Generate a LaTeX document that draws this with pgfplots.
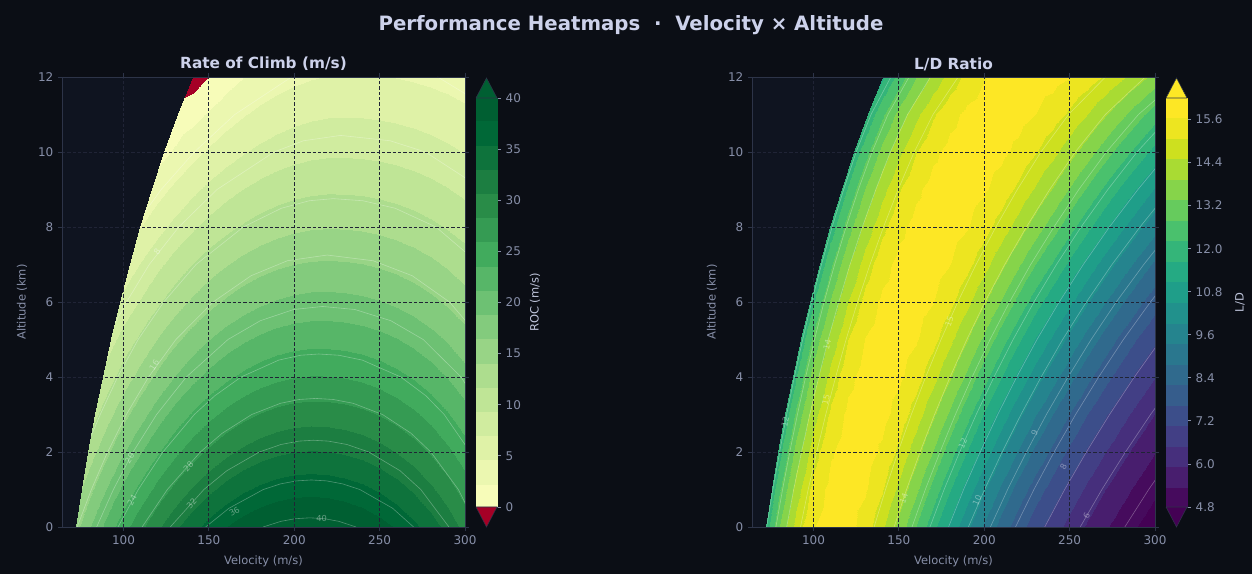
\documentclass[border=0pt]{standalone}
\usepackage{fontspec}
\setmainfont{DejaVu Sans}
\usepackage{pgfplots}
\usepackage{pgfplotstable}
\pgfplotsset{compat=1.18}

\definecolor{figbg}{RGB}{11,14,21}
\definecolor{axbg}{RGB}{15,20,32}
\definecolor{tickc}{RGB}{135,143,168}
\definecolor{titlec}{RGB}{205,210,235}
\definecolor{cblab}{RGB}{190,196,218}
\definecolor{spinec}{RGB}{45,52,72}
\definecolor{gridc}{RGB}{32,36,54}

\pgfplotsset{
  colormap={rocmap}{rgb255=(165,0,38) rgb255=(247,252,185) rgb255=(235,247,176) rgb255=(223,242,167) rgb255=(208,236,159) rgb255=(191,229,150) rgb255=(173,221,142) rgb255=(152,212,134) rgb255=(131,203,125) rgb255=(109,193,115) rgb255=(87,182,104) rgb255=(65,171,93) rgb255=(53,155,83) rgb255=(41,140,72) rgb255=(28,126,65) rgb255=(14,115,60) rgb255=(0,104,55) rgb255=(0,95,50) rgb255=(0,95,50)},
  colormap={ldmap}{rgb255=(68,1,84) rgb255=(70,11,93) rgb255=(72,30,110) rgb255=(70,47,124) rgb255=(66,63,133) rgb255=(60,78,138) rgb255=(54,93,140) rgb255=(48,106,141) rgb255=(42,119,142) rgb255=(37,132,142) rgb255=(33,145,140) rgb255=(31,158,137) rgb255=(37,170,131) rgb255=(52,181,121) rgb255=(74,193,109) rgb255=(102,203,93) rgb255=(134,212,74) rgb255=(169,219,51) rgb255=(205,224,31) rgb255=(237,229,32) rgb255=(253,231,37) rgb255=(253,231,37)},
}

\pgfplotsset{
  heat/.style={
    scale only axis, width=302.25pt, height=337.5pt,
    xmin=64, xmax=300, ymin=0, ymax=12,
    xtick={100,150,200,250,300}, ytick={0,2,4,6,8,10,12},
    axis background/.style={fill=axbg},
    axis line style={spinec, line width=0.6pt},
    tick style={spinec, line width=0.6pt},
    tick align=outside, major tick length=3pt,
    ticklabel style={font=\fontsize{9}{10}\selectfont, text=tickc},
    xlabel style={font=\fontsize{8.6}{10}\selectfont, text=tickc, at={(axis description cs:0.5,0)}, anchor=center, yshift=-26pt},
    ylabel style={font=\fontsize{8.6}{10}\selectfont, text=tickc, at={(axis description cs:0,0.5)}, anchor=center, yshift=30pt},
    grid=major, grid style={gridc, dash pattern=on 2.5pt off 1.5pt, line width=0.6pt},
    axis on top,
    xlabel={Velocity (m/s)}, ylabel={Altitude (km)},
    title style={font=\bfseries\fontsize{11.5}{13}\selectfont, text=titlec, anchor=center, yshift=3.75pt},
    /pgf/number format/assume math mode=true,
  },
  cbar/.style={
    scale only axis, width=15.75pt, height=306.75pt,
    xmin=0, xmax=1, xtick=\empty, clip=false,
    yticklabel pos=right, ytick pos=right,
    axis line style={spinec, line width=0.5pt},
    tick style={tickc, line width=0.6pt},
    tick align=outside, major tick length=3pt,
    ticklabel style={font=\fontsize{9}{10}\selectfont, text=tickc},
    /pgf/number format/assume math mode=true,
  },
  cline/.style={white, opacity=0.3, line width=0.45pt, forget plot},
}
\tikzset{clabel/.style={font=\fontsize{6.2}{7}\selectfont, text=white, text opacity=0.38, inner sep=0.5pt}}

\pgfplotstableread{
x y z
72 0 15.66
80 0 18.53
90 0 21.88
100 0 24.96
110 0 27.77
120 0 30.31
130 0 32.57
140 0 34.57
150 0 36.30
160 0 37.76
170 0 38.95
180 0 39.86
190 0 40.51
200 0 40.89
210 0 41.00
220 0 40.84
230 0 40.40
240 0 39.70
250 0 38.73
260 0 37.49
270 0 35.98
280 0 34.19
290 0 32.14
300 0 29.82
75.6 1 14.12
80 1 15.59
90 1 18.76
100 1 21.68
110 1 24.34
120 1 26.75
130 1 28.90
140 1 30.80
150 1 32.45
160 1 33.84
170 1 34.98
180 1 35.86
190 1 36.49
200 1 36.87
210 1 36.99
220 1 36.86
230 1 36.50
240 1 35.89
250 1 35.04
260 1 33.95
270 1 32.62
280 1 31.04
290 1 29.23
300 1 27.17
79.4 2 12.61
80 2 12.80
90 2 15.79
100 2 18.55
110 2 21.07
120 2 23.35
130 2 25.39
140 2 27.19
150 2 28.76
160 2 30.09
170 2 31.18
180 2 32.03
190 2 32.64
200 2 33.02
210 2 33.16
220 2 33.07
230 2 32.76
240 2 32.24
250 2 31.50
260 2 30.55
270 2 29.39
280 2 28.00
290 2 26.40
300 2 24.59
83.6 3 11.21
83.6 3 11.21
90 3 12.99
100 3 15.59
110 3 17.96
120 3 20.11
130 3 22.05
140 3 23.76
150 3 25.24
160 3 26.51
170 3 27.55
180 3 28.37
190 3 28.97
200 3 29.35
210 3 29.51
220 3 29.45
230 3 29.20
240 3 28.76
250 3 28.13
260 3 27.30
270 3 26.29
280 3 25.08
290 3 23.68
300 3 22.09
88 4 9.84
88 4 9.84
90 4 10.36
100 4 12.79
110 4 15.03
120 4 17.05
130 4 18.88
140 4 20.49
150 4 21.90
160 4 23.10
170 4 24.10
180 4 24.89
190 4 25.48
200 4 25.85
210 4 26.03
220 4 26.00
230 4 25.81
240 4 25.44
250 4 24.90
260 4 24.19
270 4 23.32
280 4 22.27
290 4 21.05
300 4 19.66
92.9 5 8.59
92.9 5 8.59
92.9 5 8.59
100 5 10.19
110 5 12.28
120 5 14.18
130 5 15.89
140 5 17.41
150 5 18.74
160 5 19.88
170 5 20.83
180 5 21.59
190 5 22.16
200 5 22.54
210 5 22.73
220 5 22.73
230 5 22.58
240 5 22.28
250 5 21.83
260 5 21.23
270 5 20.48
280 5 19.57
290 5 18.52
300 5 17.32
98.1 6 7.24
98.1 6 7.24
98.1 6 7.24
100 6 7.64
110 6 9.60
120 6 11.39
130 6 13.01
140 6 14.45
150 6 15.71
160 6 16.80
170 6 17.71
180 6 18.45
190 6 19.01
200 6 19.39
210 6 19.60
220 6 19.63
230 6 19.52
240 6 19.28
250 6 18.91
260 6 18.40
270 6 17.76
280 6 16.99
290 6 16.09
300 6 15.05
103.7 7 5.98
103.7 7 5.98
103.7 7 5.98
103.7 7 5.98
110 7 7.12
120 7 8.80
130 7 10.32
140 7 11.68
150 7 12.88
160 7 13.91
170 7 14.78
180 7 15.49
190 7 16.04
200 7 16.42
210 7 16.65
220 7 16.71
230 7 16.64
240 7 16.45
250 7 16.14
260 7 15.72
270 7 15.18
280 7 14.53
290 7 13.75
300 7 12.87
109.9 8 4.58
109.9 8 4.58
109.9 8 4.58
109.9 8 4.58
110 8 4.60
120 8 6.21
130 8 7.67
140 8 8.97
150 8 10.13
160 8 11.13
170 8 11.98
180 8 12.68
190 8 13.23
200 8 13.62
210 8 13.87
220 8 13.96
230 8 13.92
240 8 13.78
250 8 13.53
260 8 13.18
270 8 12.74
280 8 12.18
290 8 11.53
300 8 10.78
116.6 9 3.18
116.6 9 3.18
116.6 9 3.18
116.6 9 3.18
116.6 9 3.18
120 9 3.69
130 9 5.11
140 9 6.38
150 9 7.51
160 9 8.50
170 9 9.34
180 9 10.03
190 9 10.59
200 9 11.00
210 9 11.26
220 9 11.38
230 9 11.37
240 9 11.27
250 9 11.07
260 9 10.79
270 9 10.42
280 9 9.96
290 9 9.41
300 9 8.77
123.9 10 1.70
123.9 10 1.70
123.9 10 1.70
123.9 10 1.70
123.9 10 1.70
123.9 10 1.70
130 10 2.55
140 10 3.82
150 10 4.96
160 10 5.95
170 10 6.80
180 10 7.52
190 10 8.09
200 10 8.53
210 10 8.82
220 10 8.97
230 10 8.99
240 10 8.92
250 10 8.78
260 10 8.55
270 10 8.25
280 10 7.87
290 10 7.41
300 10 6.88
131.9 11 0.80
131.9 11 0.80
131.9 11 0.80
131.9 11 0.80
131.9 11 0.80
131.9 11 0.80
131.9 11 0.80
140 11 1.35
150 11 2.51
160 11 3.52
170 11 4.40
180 11 5.15
190 11 5.75
200 11 6.22
210 11 6.55
220 11 6.74
230 11 6.79
240 11 6.75
250 11 6.64
260 11 6.46
270 11 6.22
280 11 5.91
290 11 5.54
300 11 5.09
141 12 -1.30
141 12 -1.30
141 12 -1.30
141 12 -1.30
141 12 -1.30
141 12 -1.30
141 12 -1.30
141 12 -1.30
150 12 -0.05
160 12 1.25
170 12 2.16
180 12 2.94
190 12 3.57
200 12 4.07
210 12 4.44
220 12 4.67
230 12 4.76
240 12 4.74
250 12 4.67
260 12 4.54
270 12 4.35
280 12 4.11
290 12 3.82
300 12 3.46
}\roctable

\pgfplotstableread{
x y z
72 0 11.87
80 0 13.34
90 0 14.75
100 0 15.62
110 0 15.98
120 0 15.88
130 0 15.39
140 0 14.64
150 0 13.74
160 0 12.78
170 0 11.83
180 0 10.92
190 0 10.06
200 0 9.27
210 0 8.55
220 0 7.89
230 0 7.30
240 0 6.76
250 0 6.28
260 0 5.84
270 0 5.44
280 0 5.08
290 0 4.75
300 0 4.45
75.6 1 11.88
80 1 12.67
90 1 14.21
100 1 15.27
110 1 15.85
120 1 15.98
130 1 15.73
140 1 15.15
150 1 14.38
160 1 13.51
170 1 12.59
180 1 11.69
190 1 10.83
200 1 10.02
210 1 9.27
220 1 8.57
230 1 7.95
240 1 7.38
250 1 6.86
260 1 6.38
270 1 5.96
280 1 5.57
290 1 5.21
300 1 4.88
79.4 2 11.87
80 2 11.97
90 2 13.59
100 2 14.81
110 2 15.60
120 2 15.96
130 2 15.93
140 2 15.56
150 2 14.96
160 2 14.19
170 2 13.35
180 2 12.48
190 2 11.63
200 2 10.81
210 2 10.04
220 2 9.32
230 2 8.66
240 2 8.05
250 2 7.50
260 2 6.99
270 2 6.53
280 2 6.11
290 2 5.72
300 2 5.36
83.6 3 11.88
83.6 3 11.88
90 3 12.91
100 3 14.26
110 3 15.22
120 3 15.79
130 3 15.99
140 3 15.85
150 3 15.43
160 3 14.81
170 3 14.06
180 3 13.26
190 3 12.43
200 3 11.62
210 3 10.84
220 3 10.11
230 3 9.41
240 3 8.78
250 3 8.19
260 3 7.65
270 3 7.17
280 3 6.71
290 3 6.29
300 3 5.91
88 4 11.87
88 4 11.87
90 4 12.18
100 4 13.62
110 4 14.73
120 4 15.50
130 4 15.90
140 4 15.98
150 4 15.77
160 4 15.33
170 4 14.71
180 4 14.00
190 4 13.23
200 4 12.44
210 4 11.67
220 4 10.93
230 4 10.23
240 4 9.56
250 4 8.95
260 4 8.37
270 4 7.85
280 4 7.37
290 4 6.91
300 4 6.50
92.9 5 11.89
92.9 5 11.89
92.9 5 11.89
100 5 12.92
110 5 14.15
120 5 15.07
130 5 15.67
140 5 15.96
150 5 15.95
160 5 15.72
170 5 15.26
180 5 14.66
190 5 13.98
200 5 13.25
210 5 12.50
220 5 11.78
230 5 11.06
240 5 10.39
250 5 9.75
260 5 9.15
270 5 8.59
280 5 8.07
290 5 7.60
300 5 7.16
98.1 6 11.88
98.1 6 11.88
98.1 6 11.88
100 6 12.15
110 6 13.46
120 6 14.52
130 6 15.28
140 6 15.77
150 6 15.98
160 6 15.94
170 6 15.68
180 6 15.23
190 6 14.67
200 6 14.02
210 6 13.34
220 6 12.63
230 6 11.93
240 6 11.25
250 6 10.61
260 6 9.99
270 6 9.40
280 6 8.86
290 6 8.35
300 6 7.87
103.7 7 11.87
103.7 7 11.87
103.7 7 11.87
103.7 7 11.87
110 7 12.70
120 7 13.86
130 7 14.77
140 7 15.43
150 7 15.83
160 7 15.99
170 7 15.93
180 7 15.67
190 7 15.25
200 7 14.73
210 7 14.12
220 7 13.48
230 7 12.81
240 7 12.15
250 7 11.50
260 7 10.88
270 7 10.28
280 7 9.71
290 7 9.18
300 7 8.67
109.9 8 11.87
109.9 8 11.87
109.9 8 11.87
109.9 8 11.87
110 8 11.89
120 8 13.10
130 8 14.13
140 8 14.93
150 8 15.51
160 8 15.85
170 8 15.99
180 8 15.93
190 8 15.70
200 8 15.31
210 8 14.83
220 8 14.27
230 8 13.67
240 8 13.05
250 8 12.42
260 8 11.80
270 8 11.20
280 8 10.62
290 8 10.07
300 8 9.54
116.6 9 11.88
116.6 9 11.88
116.6 9 11.88
116.6 9 11.88
116.6 9 11.88
120 9 12.28
130 9 13.38
140 9 14.30
150 9 15.03
160 9 15.54
170 9 15.86
180 9 15.99
190 9 15.94
200 9 15.74
210 9 15.41
220 9 14.97
230 9 14.46
240 9 13.90
250 9 13.32
260 9 12.73
270 9 12.14
280 9 11.56
290 9 11.00
300 9 10.46
123.9 10 11.87
123.9 10 11.87
123.9 10 11.87
123.9 10 11.87
123.9 10 11.87
123.9 10 11.87
130 10 12.55
140 10 13.56
150 10 14.39
160 10 15.06
170 10 15.54
180 10 15.84
190 10 15.98
200 10 15.95
210 10 15.80
220 10 15.51
230 10 15.13
240 10 14.68
250 10 14.17
260 10 13.64
270 10 13.08
280 10 12.52
290 10 11.98
300 10 11.43
131.9 11 11.80
131.9 11 11.80
131.9 11 11.80
131.9 11 11.80
131.9 11 11.80
131.9 11 11.80
131.9 11 11.80
140 11 12.65
150 11 13.58
160 11 14.36
170 11 15.00
180 11 15.47
190 11 15.79
200 11 15.96
210 11 15.99
220 11 15.89
230 11 15.67
240 11 15.36
250 11 14.97
260 11 14.53
270 11 14.04
280 11 13.54
290 11 13.01
300 11 12.49
141 12 11.57
141 12 11.57
141 12 11.57
141 12 11.57
141 12 11.57
141 12 11.57
141 12 11.57
141 12 11.57
150 12 12.45
160 12 13.34
170 12 14.11
180 12 14.74
190 12 15.25
200 12 15.62
210 12 15.86
220 12 15.98
230 12 15.97
240 12 15.87
250 12 15.67
260 12 15.39
270 12 15.03
280 12 14.63
290 12 14.20
300 12 13.74
}\ldtable

\begin{document}
\begin{tikzpicture}
\fill[figbg] (0,0) rectangle (939pt,430.5pt);
\node[font=\bfseries\fontsize{14.8}{17}\selectfont, text=titlec] at (473.25pt,411.75pt) {Performance Heatmaps \ · \ Velocity × Altitude};

% ---------- Rate of climb ----------
\begin{axis}[heat, at={(46.5pt,35.25pt)}, anchor=south west,
  title={Rate of Climb (m/s)},
  colormap name=rocmap, point meta min=-2.5, point meta max=42.5]
\addplot[surf, shader=interp, colormap access=piecewise constant, mesh/cols=24, point meta=explicit]
  table[x=x, y=y, meta=z] {\roctable};
% contour lines (levels 4..40 every 4)
\addplot[cline] coordinates {(181.8,0) (192.1,0.15) (200.4,0.22) (209.2,0.245) (217.9,0.22) (226.2,0.15) (236.2,0)};
\addplot[cline] coordinates {(148.1,0) (161.8,0.5) (181.9,1) (192.0,1.15) (201.4,1.23) (210.0,1.254) (218.9,1.23) (228.3,1.15) (238.4,1) (257.6,0.5) (269.9,0)};
\addplot[cline] coordinates {(127.4,0) (147.1,1) (160.5,1.5) (179.6,2) (192.2,2.2) (202.7,2.29) (211.1,2.313) (220.0,2.29) (230.9,2.2) (243.6,2) (262.0,1.5) (274.1,1) (290.6,0)};
\addplot[cline] coordinates {(110.9,0) (125.7,1) (145.0,2) (157.8,2.5) (175.1,3) (192.0,3.3) (202.9,3.4) (212.5,3.429) (222.9,3.4) (234.4,3.3) (251.7,3) (268.4,2.5) (280.0,2) (296.1,1) (307.1,0)};
\addplot[cline] coordinates {(96.8,0) (108.7,1) (123.1,2) (141.5,3) (153.5,3.5) (168.9,4) (190.9,4.45) (203.7,4.58) (214.3,4.613) (226.1,4.58) (239.9,4.45) (262.4,4) (277.1,3.5) (287.8,3) (303.0,2) (313.5,1)};
\addplot[cline] coordinates {(84.3,0) (94.1,1) (105.6,2) (119.4,3) (136.8,4) (161.2,5) (180.1,5.5) (199.7,5.8) (216.6,5.881) (235.5,5.8) (256.6,5.5) (275.5,5) (297.7,4) (311.6,3)};
\addplot[cline] coordinates {(72.9,0) (81.2,1) (90.7,2) (101.7,3) (114.7,4) (130.7,5) (152.5,6) (174.7,6.7) (196.0,7.1) (219.3,7.252) (246.2,7.1) (269.1,6.7) (290.9,6) (309.7,5)};
\addplot[cline] coordinates {(81.2,2.44) (86.4,3) (96.6,4) (108.6,5) (123.6,6) (142.5,7) (170.2,8) (192.5,8.5) (208.8,8.7) (222.8,8.756) (240.2,8.7) (259.1,8.5) (283.0,8) (308.7,7)};
\addplot[cline] coordinates {(95.2,5.44) (101.8,6) (115.1,7) (132.4,8) (154.8,9) (188.2,10) (205.4,10.3) (227.2,10.442) (256.1,10.3) (276.8,10) (310.6,9)};
\addplot[cline] coordinates {(112.7,8.41) (122.1,9) (141.5,10) (165.2,11) (198.4,12)};
\addplot[cline] coordinates {(284.0,12) (320.1,11)};
\node[clabel, rotate=58] at (axis cs:103.6,1.83) {20};
\node[clabel, rotate=60] at (axis cs:105.0,0.72) {24};
\node[clabel, rotate=47] at (axis cs:138.1,1.61) {28};
\node[clabel, rotate=48] at (axis cs:139.9,0.63) {32};
\node[clabel, rotate=30] at (axis cs:165.0,0.41) {36};
\node[clabel] at (axis cs:216,0.22) {40};
\node[clabel, rotate=58] at (axis cs:118.0,4.32) {16};
\node[clabel, rotate=56] at (axis cs:119.7,7.34) {8};
\end{axis}

\begin{axis}[cbar, at={(357pt,50.25pt)}, anchor=south west,
  ymin=0, ymax=40, ytick={0,5,10,15,20,25,30,35,40},
  colormap name=rocmap, point meta min=-2.5, point meta max=42.5]
\addplot[surf, shader=interp, colormap access=piecewise constant, mesh/cols=2, point meta=explicit]
  table[meta=m] {
x y m
0 0 0
1 0 0
0 40 40
1 40 40
};
\addplot[fill={rgb,255:red,165;green,0;blue,38}, draw=spinec, line width=0.4pt] coordinates {(0,0) (1,0) (0.5,-1.956) (0,0)};
\addplot[fill={rgb,255:red,0;green,95;blue,50}, draw=spinec, line width=0.4pt] coordinates {(0,40) (1,40) (0.5,41.956) (0,40)};
\node[rotate=90, font=\fontsize{8.6}{10}\selectfont, text=cblab] at (axis description cs:2.81,0.5) {ROC (m/s)};
\end{axis}

% ---------- L/D ----------
\begin{axis}[heat, at={(564pt,35.25pt)}, anchor=south west,
  title={L/D Ratio},
  colormap name=ldmap, point meta min=4.2, point meta max=16.8]
\addplot[surf, shader=interp, colormap access=piecewise constant, mesh/cols=24, point meta=explicit]
  table[x=x, y=y, meta=z] {\ldtable};
% contour lines, right branch (L/D = 15 ... 5)
\addplot[cline] coordinates {(135.5,0) (142.2,1) (149.5,2) (157.3,3) (165.7,4) (174.7,5) (184.5,6) (195.2,7) (206.8,8) (219.4,9) (233.2,10) (249.4,11) (271.0,12)};
\addplot[cline] coordinates {(147.2,0) (154.5,1) (162.4,2) (170.9,3) (180.0,4) (189.8,5) (200.4,6) (212.0,7) (224.7,8) (238.3,9) (253.3,10) (270.9,11) (294.3,12)};
\addplot[cline] coordinates {(157.7,0) (165.5,1) (174.1,2) (183.1,3) (192.9,4) (203.4,5) (214.8,6) (227.2,7) (240.8,8) (255.4,9) (271.5,10) (290.3,11) (315.5,12)};
\addplot[cline] coordinates {(168.2,0) (176.5,1) (185.6,2) (195.3,3) (205.7,4) (216.9,5) (229.1,6) (242.3,7) (256.7,8) (272.4,9) (289.5,10) (309.6,11)};
\addplot[cline] coordinates {(179.1,0) (187.9,1) (197.6,2) (207.9,3) (219.0,4) (230.9,5) (243.9,6) (258.0,7) (273.3,8) (290.0,9) (308.2,10)};
\addplot[cline] coordinates {(190.7,0) (200.2,1) (210.5,2) (221.5,3) (233.3,4) (245.9,5) (259.8,6) (274.8,7) (291.2,8) (308.9,9)};
\addplot[cline] coordinates {(203.6,0) (213.7,1) (224.7,2) (236.4,3) (249.1,4) (262.6,5) (277.3,6) (293.4,7) (310.9,8)};
\addplot[cline] coordinates {(218.3,0) (229.1,1) (240.9,2) (253.5,3) (267.0,4) (281.5,5) (297.3,6) (314.5,7)};
\addplot[cline] coordinates {(235.4,0) (247.1,1) (259.8,2) (273.4,3) (287.9,4) (303.6,5)};
\addplot[cline] coordinates {(256.2,0) (268.9,1) (282.7,2) (297.4,3) (313.3,4)};
\addplot[cline] coordinates {(282.3,0) (296.3,1) (311.5,2)};
% left branch (L/D = 15 ... 12)
\addplot[cline] coordinates {(92.4,0) (96.9,1) (101.9,2) (107.2,3) (113.0,4) (119.1,5) (125.8,6) (133.1,7) (141.0,8) (149.6,9) (159.0,10) (170.0,11) (184.7,12)};
\addplot[cline] coordinates {(84.3,0) (88.4,1) (93.0,2) (97.8,3) (103.1,4) (108.6,5) (114.8,6) (121.4,7) (128.6,8) (136.5,9) (145.0,10) (155.1,11) (168.5,12)};
\addplot[cline] coordinates {(78.0,0) (81.9,1) (86.1,2) (90.6,3) (95.4,4) (100.6,5) (106.2,6) (112.4,7) (119.1,8) (126.3,9) (134.3,10) (143.6,11) (156.0,12)};
\addplot[cline] coordinates {(72.6,0) (76.2,1) (80.2,2) (84.3,3) (88.8,4) (93.7,5) (98.9,6) (104.7,7) (110.9,8) (117.7,9) (125.0,10) (133.7,11) (145.3,12)};
\node[clabel, rotate=78] at (axis cs:83.4,2.8) {12};
\node[clabel, rotate=77] at (axis cs:107.3,3.4) {15};
\node[clabel, rotate=70] at (axis cs:152.9,0.77) {14};
\node[clabel, rotate=66] at (axis cs:195.8,0.7) {10};
\node[clabel, rotate=67] at (axis cs:187.5,2.24) {12};
\node[clabel, rotate=64] at (axis cs:229.5,2.5) {9};
\node[clabel, rotate=62] at (axis cs:246.4,1.6) {8};
\node[clabel, rotate=60] at (axis cs:260.0,0.3) {6};
\node[clabel, rotate=76] at (axis cs:108.0,4.85) {14};
\node[clabel, rotate=70] at (axis cs:179.6,5.47) {15};
\end{axis}

\begin{axis}[cbar, at={(874.5pt,50.25pt)}, anchor=south west,
  ymin=4.8, ymax=16.2, ytick={4.8,6.0,7.2,8.4,9.6,10.8,12.0,13.2,14.4,15.6},
  yticklabel style={/pgf/number format/.cd, fixed, fixed zerofill, precision=1},
  colormap name=ldmap, point meta min=4.2, point meta max=16.8]
\addplot[surf, shader=interp, colormap access=piecewise constant, mesh/cols=2, point meta=explicit]
  table[meta=m] {
x y m
0 4.8 4.8
1 4.8 4.8
0 16.2 16.2
1 16.2 16.2
};
\addplot[fill={rgb,255:red,68;green,1;blue,84}, draw=spinec, line width=0.4pt] coordinates {(0,4.8) (1,4.8) (0.5,4.2425) (0,4.8)};
\addplot[fill={rgb,255:red,253;green,231;blue,37}, draw=spinec, line width=0.4pt] coordinates {(0,16.2) (1,16.2) (0.5,16.7575) (0,16.2)};
\node[rotate=90, font=\fontsize{8.6}{10}\selectfont, text=cblab] at (axis description cs:3.52,0.5) {L/D};
\end{axis}

\pgfresetboundingbox
\useasboundingbox (0,0) rectangle (939pt,430.5pt);
\end{tikzpicture}
\end{document}
